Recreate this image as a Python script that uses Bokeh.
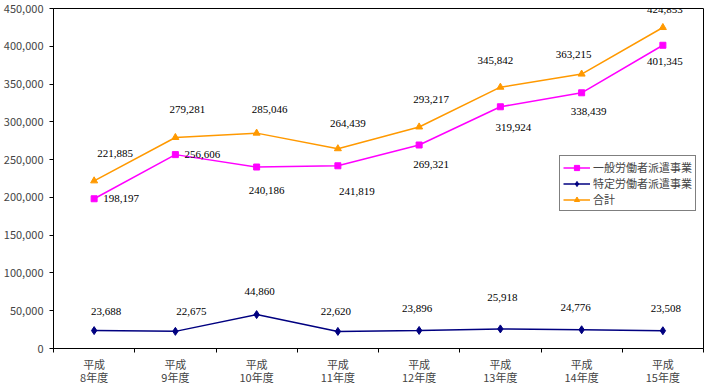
from bokeh.plotting import figure
from bokeh.models import (ColumnDataSource, FixedTicker, LabelSet, Legend, LegendItem,
                          NumeralTickFormatter, Range1d)
from bokeh.embed import file_html
from bokeh.resources import INLINE

# ---- data ----
categories = ["平成\n8年度", "平成\n9年度", "平成\n10年度", "平成\n11年度",
              "平成\n12年度", "平成\n13年度", "平成\n14年度", "平成\n15年度"]
general = [198197, 256606, 240186, 241819, 269321, 319924, 338439, 401345]
specific = [23688, 22675, 44860, 22620, 23896, 25918, 24776, 23508]
total = [221885, 279281, 285046, 264439, 293217, 345842, 363215, 424853]
series_names = ["一般労働者派遣事業", "特定労働者派遣事業", "合計"]
y_ticks = [0, 50000, 100000, 150000, 200000, 250000, 300000, 350000, 400000, 450000]

# label offsets in screen px (dx right, dy down)
total_dx = [21, 12, 13, 10, 12, -5, -8, 2]
total_dy = [-27, -28, -24, -25, -27, -27, -20, -18]
general_dx = [27, 27, 10, 19, 12, 13, 7, 2]
general_dy = [0, 0, 23, 26, 19, 21, 19, 16]
specific_dx = [12, 16, 3, -2, -2, 2, -6, 3]
specific_dy = [-19, -20, -23, -20, -22, -31, -22, -22]

FONT = "Noto Sans CJK JP"
xs = [i + 0.5 for i in range(len(categories))]

p = figure(width=705, height=388, output_backend="svg", toolbar_location=None,
           x_range=Range1d(0, len(categories)), y_range=Range1d(0, 450000),
           min_border_left=44, min_border_right=2, min_border_top=8, min_border_bottom=10)
p.background_fill_color = "white"
p.border_fill_color = "white"
p.outline_line_color = "black"
p.outline_line_width = 1
p.xgrid.visible = False
p.ygrid.visible = False

# x axis
p.xaxis.ticker = FixedTicker(ticks=xs, minor_ticks=list(range(0, len(categories) + 1)))
p.xaxis.major_label_overrides = {x: c for x, c in zip(xs, categories)}
p.xaxis.major_tick_line_color = None
p.xaxis.major_tick_out = 0
p.xaxis.major_tick_in = 0
p.xaxis.minor_tick_line_color = "black"
p.xaxis.minor_tick_out = 4
p.xaxis.minor_tick_in = 0
p.xaxis.major_label_standoff = 3
p.xaxis.major_label_text_font = FONT
p.xaxis.major_label_text_font_size = "11px"
p.xaxis.major_label_text_line_height = 0.85
p.xaxis.axis_line_color = "black"

# y axis
p.yaxis.ticker = FixedTicker(ticks=y_ticks)
p.yaxis.formatter = NumeralTickFormatter(format="0,0")
p.yaxis.major_tick_out = 4
p.yaxis.major_tick_in = 0
p.yaxis.minor_tick_line_color = None
p.yaxis.major_label_standoff = 6
p.yaxis.major_label_text_font = FONT
p.yaxis.major_label_text_font_size = "11px"
p.yaxis.axis_line_color = "black"

styles = [
    (general, "#FF00FF", "square", 6, general_dx, general_dy),
    (specific, "#000080", "diamond", 8, specific_dx, specific_dy),
    (total, "#FF9900", "triangle", 7, total_dx, total_dy),
]

renderers = {}
for idx in [2, 0, 1]:
    vals, color, marker, size, dx, dy = styles[idx]
    src = ColumnDataSource(dict(x=xs, y=vals, txt=[f"{v:,}" for v in vals],
                                dx=dx, dy=[-d for d in dy]))
    ln = p.line("x", "y", source=src, line_color=color, line_width=1.5)
    mk = p.scatter("x", "y", source=src, marker=marker, size=size,
                   fill_color=color, line_color=color)
    renderers[idx] = [ln, mk]
    p.add_layout(LabelSet(x="x", y="y", text="txt", source=src, x_offset="dx", y_offset="dy",
                          text_align="center", text_baseline="middle",
                          text_font=FONT, text_font_size="11px", text_color="black"))

items = [LegendItem(label=series_names[i], renderers=renderers[i]) for i in [0, 1, 2]]

legend = Legend(items=items, location=(506, 137), orientation="vertical")
legend.label_text_font = FONT
legend.label_text_font_size = "11px"
legend.label_height = 13
legend.glyph_height = 13
legend.glyph_width = 27
legend.spacing = 0
legend.padding = 3
legend.margin = 0
legend.label_standoff = 3
legend.border_line_color = "black"
legend.border_line_width = 1
legend.background_fill_alpha = 1
p.add_layout(legend)

open("out.html", "w").write(file_html(p, INLINE))
